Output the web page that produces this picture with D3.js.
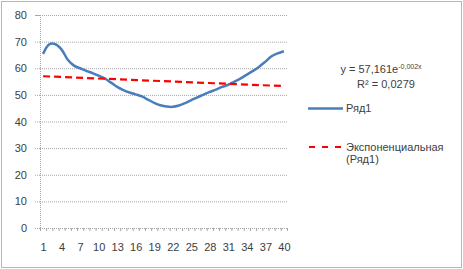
<!DOCTYPE html>
<html>
<head>
<meta charset="utf-8">
<script src="https://cdn.jsdelivr.net/npm/d3@7"></script>
<style>
  body { margin: 0; background: #fff; }
  svg text { font-family: "Liberation Sans", Arial, sans-serif; fill: #404040; }
</style>
</head>
<body>
<script>
'use strict';

// series values (categories 1..40)
const categories = d3.range(1, 41);
const seriesValues = [
  65.4, 69.0, 69.0, 67.0, 63.2, 61.0, 60.0, 59.0, 58.2, 57.2,
  56.2, 54.6, 53.0, 51.8, 50.9, 50.2, 49.4, 48.2, 47.0, 46.1,
  45.6, 45.5, 46.0, 46.9, 48.0, 49.1, 50.1, 51.1, 52.0, 53.0,
  53.8, 55.0, 56.2, 57.6, 59.0, 60.6, 62.5, 64.5, 65.6, 66.4
];
// trendline ends
const trendCategories = [1, 40];
const trendValues = [57.0, 53.3];

const yTicks = [0, 10, 20, 30, 40, 50, 60, 70, 80];
const xTickLabels = [1, 4, 7, 10, 13, 16, 19, 22, 25, 28, 31, 34, 37, 40];

const seriesName = "Ряд1";
const trendName = ["Экспоненциальная", "(Ряд1)"];

(function() {
  const W = 463, H = 269;
  const svg = d3.select('body').append('svg')
    .attr('width', W)
    .attr('height', H);

  // chart area border
  svg.append('rect')
    .attr('x', 1.5).attr('y', 1.5)
    .attr('width', 460).attr('height', 266)
    .attr('fill', '#fff')
    .attr('stroke', '#6f6f6f')
    .attr('stroke-dasharray', '1,1');

  const plot = {left: 40, right: 287, top: 15, bottom: 228};

  const x = d3.scaleLinear()
    .domain([0.5, 40.5])
    .range([plot.left, plot.right]);

  const y = d3.scaleLinear()
    .domain([0, 80])
    .range([plot.bottom, plot.top]);

  // gridlines
  const grid = svg.append('g')
    .attr('transform', `translate(${plot.left},0)`)
    .call(d3.axisLeft(y).tickValues(yTicks.slice(1)).tickSize(-(plot.right - plot.left)).tickFormat(''));
  grid.select('.domain').remove();
  grid.selectAll('line')
    .attr('stroke', '#a6a6a6')
    .attr('stroke-dasharray', '1,1');

  // y axis
  const yAxis = svg.append('g')
    .attr('transform', `translate(${plot.left},0)`)
    .call(d3.axisLeft(y).tickValues(yTicks).tickSize(5).tickPadding(8));
  yAxis.select('.domain')
    .attr('stroke', '#a6a6a6')
    .attr('stroke-dasharray', '1,1');
  yAxis.selectAll('line')
    .attr('stroke', '#a6a6a6')
    .attr('stroke-dasharray', '1,1');
  yAxis.selectAll('text')
    .style('font-size', '11px');

  // x axis: tick marks between categories
  const xAxis = svg.append('g')
    .attr('transform', `translate(0,${plot.bottom})`)
    .call(d3.axisBottom(x).tickValues(d3.range(0, 41).map((k) => k + 0.5)).tickSize(3).tickFormat(''));
  xAxis.select('.domain')
    .attr('stroke', '#a6a6a6')
    .attr('stroke-dasharray', '1,1');
  xAxis.selectAll('line')
    .attr('stroke', '#a6a6a6');

  // x labels every 3rd category
  const xLabels = svg.append('g')
    .attr('transform', `translate(0,${plot.bottom})`)
    .call(d3.axisBottom(x).tickValues(xTickLabels).tickSize(0).tickPadding(15));
  xLabels.select('.domain').remove();
  xLabels.selectAll('text')
    .style('font-size', '11px');

  // data line (smoothed like the original)
  const line = d3.line()
    .x((d, i) => x(categories[i]))
    .y((d) => y(d))
    .curve(d3.curveCatmullRom.alpha(0.5));

  svg.append('path')
    .datum(seriesValues)
    .attr('d', line)
    .attr('fill', 'none')
    .attr('stroke', '#4a7ebb')
    .attr('stroke-width', 2.5)
    .attr('stroke-linejoin', 'round');

  // trendline
  const trendLine = d3.line()
    .x((d, i) => x(trendCategories[i]))
    .y((d) => y(d));

  svg.append('path')
    .datum(trendValues)
    .attr('d', trendLine)
    .attr('fill', 'none')
    .attr('stroke', '#ff0000')
    .attr('stroke-width', 2.2)
    .attr('stroke-dasharray', '7,4');

  // trendline equation
  const eq = svg.append('text')
    .attr('x', 381)
    .attr('y', 73)
    .attr('text-anchor', 'middle')
    .style('font-size', '11px');
  eq.append('tspan').text('y = 57,161e');
  eq.append('tspan')
    .attr('dy', -4)
    .style('font-size', '7px')
    .text('-0,002x');

  svg.append('text')
    .attr('x', 386)
    .attr('y', 88)
    .attr('text-anchor', 'middle')
    .style('font-size', '11px')
    .text('R² = 0,0279');

  // legend
  svg.append('line')
    .attr('x1', 308).attr('x2', 343)
    .attr('y1', 108.5).attr('y2', 108.5)
    .attr('stroke', '#4a7ebb')
    .attr('stroke-width', 2.5);
  svg.append('text')
    .attr('x', 346).attr('y', 112)
    .style('font-size', '11px')
    .text(seriesName);

  svg.append('line')
    .attr('x1', 309).attr('x2', 343)
    .attr('y1', 147).attr('y2', 147)
    .attr('stroke', '#ff0000')
    .attr('stroke-width', 2.2)
    .attr('stroke-dasharray', '6,7');
  svg.selectAll('.legtrend')
    .data(trendName)
    .enter()
    .append('text')
    .attr('x', 346)
    .attr('y', (d, i) => 151 + i * 12)
    .style('font-size', '11px')
    .text((d) => d);
})();
</script>
</body>
</html>
